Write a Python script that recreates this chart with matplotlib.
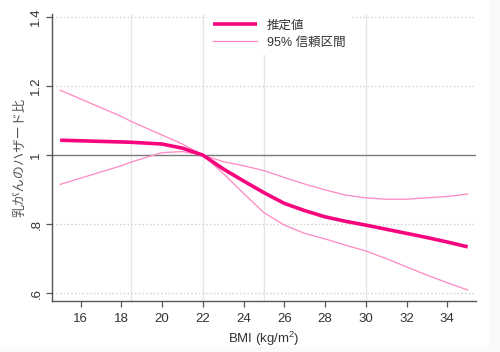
import matplotlib
matplotlib.use("Agg")
import matplotlib.pyplot as plt
from matplotlib.patches import Rectangle

plt.rcParams['font.family'] = ['Liberation Sans', 'Noto Sans CJK JP', 'DejaVu Sans']
plt.rcParams['mathtext.default'] = 'regular'

bmi = [15, 18, 18.5, 20, 21, 22, 23, 24, 25, 26, 27, 28, 29, 30, 31, 32, 33, 34, 35]
estimate = [1.043, 1.038, 1.037, 1.032, 1.020, 1.000, 0.960, 0.925, 0.891, 0.860,
            0.839, 0.821, 0.808, 0.797, 0.785, 0.773, 0.761, 0.748, 0.734]
upper = [1.188, 1.112, 1.097, 1.058, 1.032, 1.000, 0.981, 0.969, 0.955, 0.935,
         0.916, 0.899, 0.884, 0.876, 0.872, 0.872, 0.876, 0.880, 0.887]
lower = [0.915, 0.969, 0.980, 1.007, 1.010, 1.000, 0.947, 0.889, 0.833, 0.797,
         0.773, 0.757, 0.739, 0.722, 0.700, 0.676, 0.652, 0.630, 0.609]

x_ticks = [16, 18, 20, 22, 24, 26, 28, 30, 32, 34]
y_ticks = [0.6, 0.8, 1.0, 1.2, 1.4]
y_ticklabels = ['.6', '.8', '1', '1.2', '1.4']
bmi_cutoffs = [18.5, 22, 25, 30]

est_color = '#f7057f'
ci_color = '#ff8cc4'

fig = plt.figure(figsize=(5.0, 3.52), dpi=100)
fig.patch.set_facecolor('white')
# faint outer border strips
fig.add_artist(Rectangle((489/500, 0), 11/500, 1, transform=fig.transFigure,
                         facecolor='#fafafa', edgecolor='none', zorder=-5))
fig.add_artist(Rectangle((0, 0), 1, 5/352, transform=fig.transFigure,
                         facecolor='#fafafa', edgecolor='none', zorder=-5))

ax = fig.add_axes([52/500, 1 - 301/352, (476 - 52)/500, (301 - 13.6)/352])
ax.set_xlim(14.6, 35.41)
ax.set_ylim(0.577, 1.41)

for xc in bmi_cutoffs:
    ax.axvline(xc, color='#e6e6e6', lw=1.0, zorder=0)
for yv in [0.6, 0.8, 1.2, 1.4]:
    ax.axhline(yv, color='#cfcfcf', lw=0.9, ls=(0, (1.2, 1.8)), zorder=0)
ax.axhline(1.0, color='#7a7a7a', lw=1.0, zorder=1)

ax.plot(bmi, upper, color=ci_color, lw=0.95, zorder=2, label='95% 信頼区間')
ax.plot(bmi, lower, color=ci_color, lw=0.95, zorder=2)
ax.plot(bmi, estimate, color=est_color, lw=2.6, zorder=3, label='推定値',
        solid_capstyle='butt')

for s in ['top', 'right']:
    ax.spines[s].set_visible(False)
for s in ['left', 'bottom']:
    ax.spines[s].set_color('#555555')
    ax.spines[s].set_linewidth(1.0)

ax.set_xticks(x_ticks)
ax.set_xticklabels([str(v) for v in x_ticks])
ax.set_yticks(y_ticks)
ax.set_yticklabels(y_ticklabels, rotation=90, va='center')
ax.tick_params(axis='both', direction='out', length=4, width=0.9, color='#555555',
               labelsize=9.5, labelcolor='#333333')
ax.tick_params(axis='x', pad=5)
ax.tick_params(axis='y', pad=3)

ax.set_xlabel('BMI (kg/m$^2$)', fontsize=9.5, color='#333333', labelpad=3)
ax.set_ylabel('乳がんのハザード比', fontsize=9.5, color='#555555', labelpad=3)

handles, labels = ax.get_legend_handles_labels()
leg = ax.legend([handles[1], handles[0]], [labels[1], labels[0]],
                loc='upper left', bbox_to_anchor=(0.365, 1.0), frameon=True,
                fontsize=9, handlelength=3.5, handletextpad=0.8,
                labelspacing=0.4, borderpad=0.5, borderaxespad=0)
leg.get_frame().set_facecolor('white')
leg.get_frame().set_edgecolor('none')
leg.get_frame().set_alpha(1)
for t in leg.get_texts():
    t.set_color('#333333')

fig.savefig('out.png', dpi=100)
